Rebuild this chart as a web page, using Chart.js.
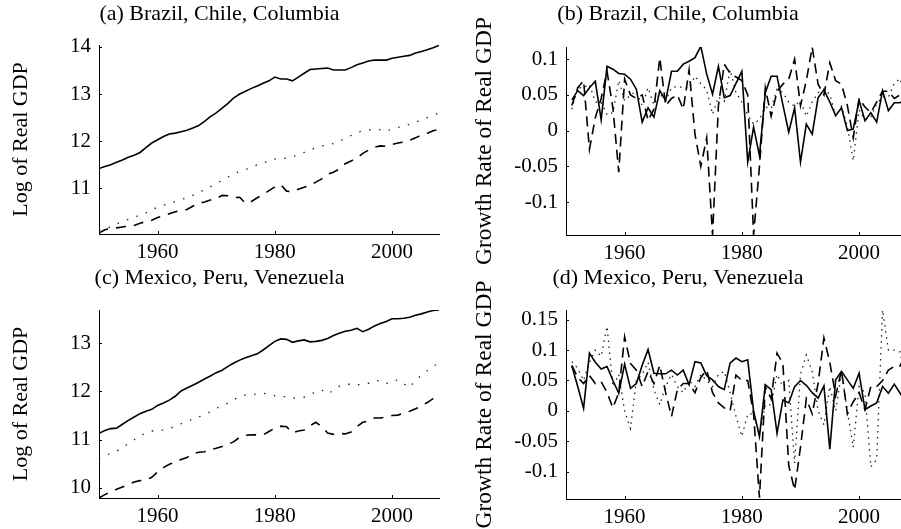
<!DOCTYPE html>
<html lang="en">
<head>
<meta charset="UTF-8">
<title>Real GDP</title>
<script src="https://cdn.jsdelivr.net/npm/chart.js"></script>
<style>
  body { margin: 0; background: #fff; width: 901px; height: 529px; overflow: hidden; position: relative; }
  canvas { position: absolute; }
</style>
</head>
<body>
<canvas id="panelA" width="450" height="264" style="left:0;top:0"></canvas>
<canvas id="panelB" width="460" height="264" style="left:450px;top:0"></canvas>
<canvas id="panelC" width="450" height="265" style="left:0;top:264px"></canvas>
<canvas id="panelD" width="460" height="265" style="left:450px;top:264px"></canvas>
<script>
// years
const levelYears = [1950, 1951, 1952, 1953, 1954, 1955, 1956, 1957, 1958, 1959,
  1960, 1961, 1962, 1963, 1964, 1965, 1966, 1967, 1968, 1969,
  1970, 1971, 1972, 1973, 1974, 1975, 1976, 1977, 1978, 1979,
  1980, 1981, 1982, 1983, 1984, 1985, 1986, 1987, 1988, 1989,
  1990, 1991, 1992, 1993, 1994, 1995, 1996, 1997, 1998, 1999,
  2000, 2001, 2002, 2003, 2004, 2005, 2006, 2007, 2008];
const growthYears = levelYears.slice(1);

const xTicks = [1960, 1980, 2000];
const yTicksA = [11, 12, 13, 14];
const yTicksB = [-0.1, -0.05, 0, 0.05, 0.1];
const yTicksC = [10, 11, 12, 13];
const yTicksD = [-0.1, -0.05, 0, 0.05, 0.1, 0.15];

// (a) log of real GDP
const brazilLog = [11.42, 11.46, 11.50, 11.55, 11.60, 11.66, 11.70, 11.76, 11.86, 11.96,
  12.03, 12.10, 12.15, 12.17, 12.20, 12.23, 12.28, 12.33, 12.42, 12.52,
  12.60, 12.70, 12.80, 12.92, 13.00, 13.06, 13.12, 13.17, 13.23, 13.28,
  13.36, 13.32, 13.32, 13.28, 13.36, 13.44, 13.52, 13.53, 13.54, 13.55,
  13.51, 13.51, 13.51, 13.56, 13.62, 13.66, 13.70, 13.72, 13.72, 13.72,
  13.76, 13.78, 13.80, 13.82, 13.87, 13.90, 13.94, 13.98, 14.03];
const chileLog = [10.05, 10.12, 10.15, 10.16, 10.18, 10.20, 10.21, 10.26, 10.29, 10.32,
  10.38, 10.42, 10.46, 10.50, 10.53, 10.55, 10.62, 10.68, 10.71, 10.75,
  10.78, 10.85, 10.84, 10.80, 10.81, 10.68, 10.72, 10.80, 10.87, 10.95,
  11.03, 11.08, 10.94, 10.93, 10.98, 11.02, 11.07, 11.13, 11.20, 11.30,
  11.34, 11.41, 11.52, 11.58, 11.64, 11.74, 11.81, 11.87, 11.90, 11.89,
  11.93, 11.96, 11.98, 12.02, 12.07, 12.13, 12.17, 12.22, 12.25];
const colombiaLog = [10.10, 10.14, 10.18, 10.24, 10.30, 10.34, 10.38, 10.44, 10.48, 10.54,
  10.60, 10.64, 10.68, 10.72, 10.76, 10.80, 10.85, 10.91, 10.97, 11.03,
  11.10, 11.17, 11.24, 11.30, 11.36, 11.40, 11.44, 11.50, 11.54, 11.58,
  11.62, 11.63, 11.64, 11.66, 11.72, 11.76, 11.82, 11.86, 11.90, 11.92,
  11.95, 12.00, 12.06, 12.12, 12.18, 12.22, 12.24, 12.26, 12.24, 12.21,
  12.26, 12.29, 12.32, 12.36, 12.40, 12.45, 12.50, 12.55, 12.60];

// (b) growth rates
const brazilGrowth = [0.043, 0.056, 0.049, 0.060, 0.069, 0.015, 0.090, 0.086, 0.080,
  0.079, 0.072, 0.058, 0.012, 0.032, 0.019, 0.056, 0.042, 0.083, 0.083,
  0.093, 0.097, 0.102, 0.118, 0.079, 0.051, 0.090, 0.046, 0.049, 0.066,
  0.083, -0.044, 0.005, -0.035, 0.053, 0.076, 0.076, 0.036, -0.002, 0.032,
  -0.044, 0.009, -0.005, 0.046, 0.057, 0.040, 0.021, 0.032, 0.000, 0.002,
  0.042, 0.014, 0.025, 0.012, 0.056, 0.028, 0.039, 0.039, 0.045];
const chileGrowth = [0.035, 0.060, 0.070, -0.026, 0.018, 0.045, 0.083, 0.032, -0.058,
  0.072, 0.050, 0.045, 0.050, 0.014, 0.030, 0.102, 0.035, 0.045, 0.050,
  0.030, 0.085, -0.005, -0.050, -0.010, -0.146, 0.035, 0.093, 0.080, 0.075,
  0.070, 0.050, -0.146, -0.050, 0.060, 0.020, 0.055, 0.065, 0.072, 0.100,
  0.035, 0.070, 0.117, 0.065, 0.050, 0.095, 0.070, 0.065, 0.035, -0.010,
  0.045, 0.033, 0.025, 0.040, 0.055, 0.055, 0.045, 0.050, 0.035];
const colombiaGrowth = [0.030, 0.060, 0.060, 0.065, 0.040, 0.040, 0.022, 0.025, 0.070,
  0.042, 0.050, 0.055, 0.035, 0.060, 0.036, 0.052, 0.042, 0.060, 0.062,
  0.060, 0.060, 0.076, 0.066, 0.057, 0.023, 0.047, 0.041, 0.085, 0.053,
  0.040, 0.022, 0.009, 0.016, 0.033, 0.031, 0.058, 0.053, 0.040, 0.034,
  0.042, 0.020, 0.040, 0.053, 0.058, 0.051, 0.020, 0.034, 0.006, -0.042,
  0.029, 0.015, 0.019, 0.038, 0.047, 0.047, 0.066, 0.073, 0.030];

// (c) log of real GDP
const mexicoLog = [11.13, 11.19, 11.23, 11.24, 11.32, 11.40, 11.47, 11.54, 11.59, 11.63,
  11.71, 11.76, 11.82, 11.90, 12.01, 12.07, 12.13, 12.19, 12.26, 12.32,
  12.39, 12.44, 12.52, 12.59, 12.65, 12.70, 12.74, 12.78, 12.86, 12.95,
  13.04, 13.09, 13.08, 13.02, 13.05, 13.07, 13.03, 13.04, 13.06, 13.10,
  13.16, 13.21, 13.25, 13.27, 13.31, 13.24, 13.29, 13.36, 13.41, 13.45,
  13.51, 13.51, 13.52, 13.54, 13.58, 13.61, 13.65, 13.68, 13.69];
const peruLog = [9.79, 9.86, 9.92, 9.97, 10.02, 10.07, 10.12, 10.15, 10.16, 10.22,
  10.33, 10.42, 10.49, 10.53, 10.59, 10.63, 10.71, 10.74, 10.75, 10.79,
  10.82, 10.86, 10.90, 10.96, 11.05, 11.09, 11.10, 11.10, 11.10, 11.17,
  11.24, 11.28, 11.27, 11.14, 11.18, 11.20, 11.29, 11.36, 11.27, 11.14,
  11.11, 11.13, 11.12, 11.16, 11.27, 11.36, 11.39, 11.45, 11.45, 11.47,
  11.50, 11.51, 11.55, 11.59, 11.64, 11.70, 11.77, 11.85, 11.93];
const venezuelaLog = [10.60, 10.66, 10.72, 10.76, 10.83, 10.92, 11.00, 11.08, 11.14, 11.18,
  11.20, 11.20, 11.23, 11.27, 11.33, 11.38, 11.42, 11.47, 11.53, 11.58,
  11.65, 11.70, 11.76, 11.83, 11.89, 11.93, 11.93, 11.95, 11.96, 11.95,
  11.91, 11.90, 11.89, 11.86, 11.87, 11.88, 11.94, 11.99, 12.03, 11.95,
  12.02, 12.11, 12.15, 12.15, 12.13, 12.17, 12.17, 12.23, 12.22, 12.16,
  12.22, 12.24, 12.16, 12.08, 12.24, 12.33, 12.43, 12.52, 12.59];

// (d) growth rates
const mexicoGrowth = [0.074, 0.040, 0.004, 0.095, 0.080, 0.069, 0.073, 0.050, 0.029,
  0.077, 0.037, 0.045, 0.075, 0.101, 0.062, 0.061, 0.061, 0.067, 0.059,
  0.067, 0.043, 0.081, 0.079, 0.058, 0.051, 0.040, 0.035, 0.079, 0.087,
  0.081, 0.084, 0.000, -0.042, 0.043, 0.035, -0.037, 0.018, 0.013, 0.040,
  0.050, 0.042, 0.030, 0.021, 0.041, -0.063, 0.051, 0.065, 0.051, 0.037,
  0.062, 0.002, 0.008, 0.013, 0.040, 0.029, 0.044, 0.029, 0.015];
const peruGrowth = [0.075, 0.055, 0.045, 0.058, 0.045, 0.048, 0.030, 0.005, 0.030,
  0.122, 0.078, 0.067, 0.040, 0.065, 0.045, 0.075, 0.030, -0.009, 0.035,
  0.045, 0.045, 0.030, 0.055, 0.067, 0.030, 0.013, 0.005, 0.000, 0.059,
  0.050, 0.050, -0.005, -0.143, 0.040, 0.020, 0.095, 0.078, -0.090, -0.130,
  -0.060, 0.020, -0.005, 0.045, 0.120, 0.080, 0.025, 0.067, -0.005, 0.015,
  0.030, 0.002, 0.040, 0.040, 0.050, 0.067, 0.073, 0.074, 0.095];
const venezuelaGrowth = [0.081, 0.070, 0.050, 0.080, 0.100, 0.090, 0.139, 0.040, 0.060,
  0.000, -0.029, 0.050, 0.060, 0.080, 0.035, 0.010, 0.040, 0.060, 0.040,
  0.030, 0.050, 0.040, 0.060, 0.050, 0.040, 0.060, 0.065, 0.030, -0.009,
  -0.042, -0.005, -0.005, -0.040, 0.010, 0.010, 0.060, 0.040, 0.050, -0.086,
  0.060, 0.092, 0.065, 0.000, -0.023, 0.040, 0.000, 0.063, 0.000, -0.060,
  0.040, 0.030, -0.092, -0.080, 0.166, 0.100, 0.100, 0.097, 0.050];

const SERIF = "'Liberation Serif', 'Times New Roman', serif";

// small tick marks pointing into the plot, as in the original figure
const inwardTicks = {
  id: 'inwardTicks',
  afterDraw(chart) {
    const ctx = chart.ctx;
    const xs = chart.scales.x, ys = chart.scales.y;
    const area = chart.chartArea;
    ctx.save();
    ctx.strokeStyle = '#000';
    ctx.lineWidth = 1;
    ctx.beginPath();
    xs.ticks.forEach(t => {
      const px = Math.round(xs.getPixelForValue(t.value)) + 0.5;
      ctx.moveTo(px, area.bottom);
      ctx.lineTo(px, area.bottom - 3);
    });
    ys.ticks.forEach(t => {
      const py = Math.round(ys.getPixelForValue(t.value)) + 0.5;
      ctx.moveTo(area.left, py);
      ctx.lineTo(area.left + 3, py);
    });
    ctx.stroke();
    ctx.restore();
  }
};

function lineSet(years, values, kind, growth) {
  const styles = {
    solid: { dash: [], width: 1.6, color: '#000' },
    dashed: { dash: growth ? [10, 6] : [10, 8], width: 1.6, color: '#000' },
    dotted: { dash: growth ? [1.5, 4.5] : [1.5, 8.5], width: 1.3, color: '#222' }
  };
  const s = styles[kind];
  return {
    data: years.map((yr, i) => ({ x: yr, y: values[i] })),
    borderColor: s.color,
    borderWidth: s.width,
    borderDash: s.dash,
    pointRadius: 0,
    tension: 0,
    fill: false
  };
}

function makePanel(id, cfg) {
  new Chart(document.getElementById(id), {
    type: 'line',
    data: { datasets: cfg.datasets },
    options: {
      responsive: false,
      animation: false,
      devicePixelRatio: 1,
      layout: { padding: { left: 0, right: cfg.padRight, top: 0, bottom: 0 } },
      plugins: {
        legend: { display: false },
        tooltip: { enabled: false },
        title: {
          display: true,
          text: cfg.title,
          color: '#000',
          font: { family: SERIF, size: 22, weight: 'normal', lineHeight: 1.2 },
          padding: { top: 1, bottom: cfg.titleGap - 1 }
        }
      },
      scales: {
        x: {
          type: 'linear',
          min: 1950,
          max: 2008,
          grid: { display: false, drawTicks: false },
          border: { display: true, color: '#000', width: 1 },
          afterBuildTicks: s => { s.ticks = xTicks.map(v => ({ value: v })); },
          afterFit: s => { s.height = cfg.xHeight; },
          ticks: {
            color: '#000',
            font: { family: SERIF, size: 21 },
            padding: 6,
            maxRotation: 0,
            autoSkip: false,
            callback: v => String(v)
          }
        },
        y: {
          min: cfg.yMin,
          max: cfg.yMax,
          grid: { display: false, drawTicks: false },
          border: { display: true, color: '#000', width: 1 },
          afterBuildTicks: s => { s.ticks = cfg.yTicks.map(v => ({ value: v })); },
          afterFit: s => { s.width = cfg.yWidth; },
          ticks: {
            color: '#000',
            font: { family: SERIF, size: 21 },
            padding: 8,
            autoSkip: false,
            callback: v => String(v)
          },
          title: {
            display: true,
            text: cfg.yLabel,
            color: '#000',
            font: { family: SERIF, size: cfg.yLabelSize, weight: 'normal', lineHeight: 1.2 },
            padding: { top: cfg.yLabelPad, bottom: 0 }
          }
        }
      }
    },
    plugins: [inwardTicks]
  });
}

makePanel('panelA', {
  title: '(a) Brazil, Chile, Columbia',
  yLabel: 'Log of Real GDP', yLabelSize: 22,
  yMin: 10.03, yMax: 14.04, yTicks: yTicksA,
  yWidth: 99, xHeight: 30, padRight: 11, titleGap: 18.6, yLabelPad: 8,
  datasets: [
    lineSet(levelYears, brazilLog, 'solid', false),
    lineSet(levelYears, chileLog, 'dashed', false),
    lineSet(levelYears, colombiaLog, 'dotted', false)
  ]
});

makePanel('panelB', {
  title: '(b) Brazil, Chile, Columbia',
  yLabel: 'Growth Rate of Real GDP', yLabelSize: 23.5,
  yMin: -0.146, yMax: 0.117, yTicks: yTicksB,
  yWidth: 116, xHeight: 29, padRight: 4, titleGap: 20.6, yLabelPad: 21,
  datasets: [
    lineSet(growthYears, brazilGrowth, 'solid', true),
    lineSet(growthYears, chileGrowth, 'dashed', true),
    lineSet(growthYears, colombiaGrowth, 'dotted', true)
  ]
});

makePanel('panelC', {
  title: '(c) Mexico, Peru, Venezuela',
  yLabel: 'Log of Real GDP', yLabelSize: 22,
  yMin: 9.79, yMax: 13.69, yTicks: yTicksC,
  yWidth: 99, xHeight: 31, padRight: 11, titleGap: 19.6, yLabelPad: 8,
  datasets: [
    lineSet(levelYears, mexicoLog, 'solid', false),
    lineSet(levelYears, peruLog, 'dashed', false),
    lineSet(levelYears, venezuelaLog, 'dotted', false)
  ]
});

makePanel('panelD', {
  title: '(d) Mexico, Peru, Venezuela',
  yLabel: 'Growth Rate of Real GDP', yLabelSize: 23.5,
  yMin: -0.145, yMax: 0.166, yTicks: yTicksD,
  yWidth: 116, xHeight: 30, padRight: 4, titleGap: 19.6, yLabelPad: 21,
  datasets: [
    lineSet(growthYears, mexicoGrowth, 'solid', true),
    lineSet(growthYears, peruGrowth, 'dashed', true),
    lineSet(growthYears, venezuelaGrowth, 'dotted', true)
  ]
});
</script>
</body>
</html>
